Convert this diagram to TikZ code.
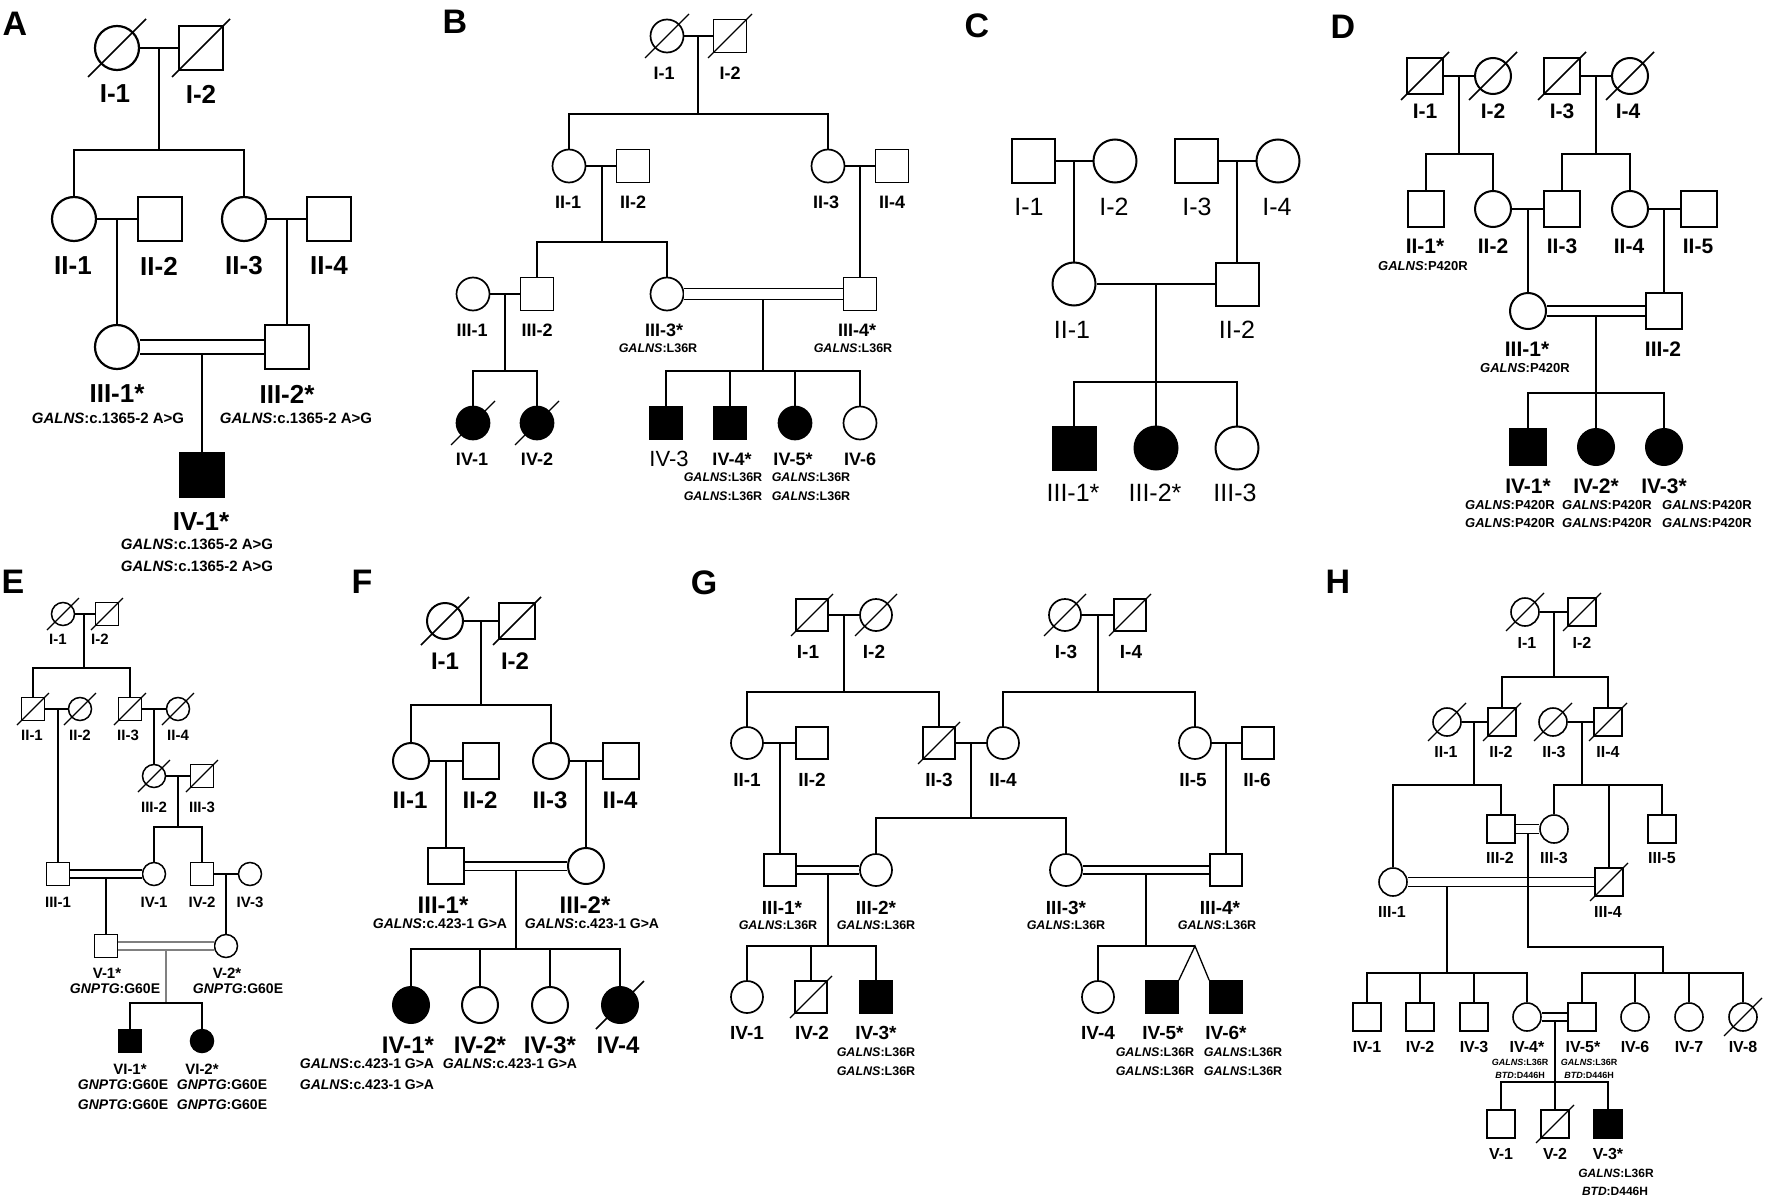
\documentclass[tikz,border=0pt]{standalone}
\usepackage{fontspec}
\setmainfont{Liberation Sans}
\newcommand{\pdg}[2]{\textit{#1}:#2}
\tikzset{
  pdsz/.style={minimum size=30pt},
  pdsym/.style={draw, inner sep=0pt, pdsz},
  pdmale/.style={pdsym, rectangle},
  pdfemale/.style={pdsym, circle},
  pdaff/.style={fill=black},
  pddead/.style={append after command={([shift={(-#1,#1)}]\tikzlastnode.center) edge ([shift={(#1,-#1)}]\tikzlastnode.center)}},
  pddbl/.style={double, double distance=#1},
  pdpanel/.style={font=\bfseries\fontsize{34}{34}\selectfont},
  pdlab/.style={font=\bfseries\fontsize{20}{20}\selectfont},
  pdgene/.style={font=\bfseries\fontsize{13}{13}\selectfont}
}

\begin{document}
\begin{tikzpicture}[x=1pt, y=-1pt, inner sep=0pt]
  \useasboundingbox (0,0) rectangle (1772,1204);
  \fill[white] (0,0) rectangle (1772,1204);

  % A
  \begin{scope}[line width=1.6pt, pdsz/.style={minimum size=44pt, line width=2.2pt}, pdlab/.style={font=\bfseries\fontsize{26}{26}\selectfont}, pdgene/.style={font=\bfseries\fontsize{15}{15}\selectfont}]
  \node[pdpanel] (Apanel) at (15,24) {A};
  \node[pdfemale, pddead=29] (A11) at (117,48) {};
  \node[pdmale, pddead=29] (A12) at (201,48) {};
  \node[pdfemale] (A21) at (74,219) {};
  \node[pdmale] (A22) at (160,219) {};
  \node[pdfemale] (A23) at (244,219) {};
  \node[pdmale] (A24) at (329,219) {};
  \node[pdfemale] (A31) at (117,347) {};
  \node[pdmale] (A32) at (287,347) {};
  \node[pdmale, pdaff] (A41) at (202,475) {};
  \node[pdlab] (A11l) at (115,94) {I-1};
  \node[pdlab] (A12l) at (201,94) {I-2};
  \node[pdlab] (A21l) at (73,266) {II-1};
  \node[pdlab] (A22l) at (159,266) {II-2};
  \node[pdlab] (A23l) at (244,266) {II-3};
  \node[pdlab] (A24l) at (329,266) {II-4};
  \node[pdlab] (A31l) at (117,394) {III-1*};
  \node[pdlab] (A32l) at (287,394) {III-2*};
  \node[pdlab] (A41l) at (201,522) {IV-1*};
  \node[pdgene] (A31g) at (108,418) {\pdg{GALNS}{c.1365-2 A>G}};
  \node[pdgene] (A32g) at (296,418) {\pdg{GALNS}{c.1365-2 A>G}};
  \node[pdgene] (A41g) at (197,544) {\pdg{GALNS}{c.1365-2 A>G}};
  \node[pdgene] (A41h) at (197,566) {\pdg{GALNS}{c.1365-2 A>G}};
  \coordinate (A1m) at (159,48);
  \coordinate (A1s) at (159,150);
  \coordinate (A2m) at (117,219);
  \coordinate (A2n) at (287,219);
  \coordinate (A3m) at (202,354);
  \draw (A11) -- (A12);
  \draw (A1m) -- (A1s);
  \draw (A21) |- (A1s) -| (A23);
  \draw (A21) -- (A22);
  \draw (A23) -- (A24);
  \draw (A2m) -- (A31);
  \draw (A2n) -- (A32);
  \draw[pddbl=12] (A31) -- (A32);
  \draw (A3m) -- (A41);
  \end{scope}

  % B
  \begin{scope}[line width=1.3pt, pdsz/.style={minimum size=33pt, line width=1.7pt}, pdlab/.style={font=\bfseries\fontsize{18}{18}\selectfont}, pdgene/.style={font=\bfseries\fontsize{12.5}{12.5}\selectfont}]
  \node[pdpanel] (Bpanel) at (455,22) {B};
  \node[pdfemale, pddead=22] (B11) at (667,36) {};
  \node[pdmale, pddead=22] (B12) at (730,36) {};
  \node[pdfemale] (B21) at (569,166) {};
  \node[pdmale] (B22) at (633,166) {};
  \node[pdfemale] (B23) at (828,166) {};
  \node[pdmale] (B24) at (892,166) {};
  \node[pdfemale] (B31) at (473,294) {};
  \node[pdmale] (B32) at (537,294) {};
  \node[pdfemale] (B33) at (667,294) {};
  \node[pdmale] (B34) at (860,294) {};
  \node[pdfemale, pdaff, pddead=22] (B41) at (473,423) {};
  \node[pdfemale, pdaff, pddead=22] (B42) at (537,423) {};
  \node[pdmale, pdaff] (B43) at (666,423) {};
  \node[pdmale, pdaff] (B44) at (730,423) {};
  \node[pdfemale, pdaff] (B45) at (795,423) {};
  \node[pdfemale] (B46) at (860,423) {};
  \node[pdlab] (B11l) at (664,73) {I-1};
  \node[pdlab] (B12l) at (730,73) {I-2};
  \node[pdlab] (B21l) at (568,202) {II-1};
  \node[pdlab] (B22l) at (633,202) {II-2};
  \node[pdlab] (B23l) at (826,202) {II-3};
  \node[pdlab] (B24l) at (892,202) {II-4};
  \node[pdlab] (B31l) at (472,330) {III-1};
  \node[pdlab] (B32l) at (537,330) {III-2};
  \node[pdlab] (B33l) at (664,330) {III-3*};
  \node[pdlab] (B34l) at (857,330) {III-4*};
  \node[pdgene] (B33g) at (658,348) {\pdg{GALNS}{L36R}};
  \node[pdgene] (B34g) at (853,348) {\pdg{GALNS}{L36R}};
  \node[pdlab] (B41l) at (472,459) {IV-1};
  \node[pdlab] (B42l) at (537,459) {IV-2};
  \node[font=\fontsize{22}{22}\selectfont] (B43l) at (669,459) {IV-3};
  \node[pdlab] (B44l) at (732,459) {IV-4*};
  \node[pdlab] (B45l) at (793,459) {IV-5*};
  \node[pdlab] (B46l) at (860,459) {IV-6};
  \node[pdgene] (B44g) at (723,477) {\pdg{GALNS}{L36R}};
  \node[pdgene] (B44h) at (723,496) {\pdg{GALNS}{L36R}};
  \node[pdgene] (B45g) at (811,477) {\pdg{GALNS}{L36R}};
  \node[pdgene] (B45h) at (811,496) {\pdg{GALNS}{L36R}};
  \coordinate (B1m) at (698,36);
  \coordinate (B1s) at (698,114);
  \coordinate (B2m) at (602,166);
  \coordinate (B2s) at (602,242);
  \coordinate (B2n) at (860,166);
  \coordinate (B3m) at (505,294);
  \coordinate (B3s) at (505,371);
  \coordinate (B3n) at (763,299.5);
  \coordinate (B3t) at (763,371);
  \draw (B11) -- (B12);
  \draw (B1m) -- (B1s);
  \draw (B21) |- (B1s) -| (B23);
  \draw (B21) -- (B22);
  \draw (B23) -- (B24);
  \draw (B2m) -- (B2s);
  \draw (B32) |- (B2s) -| (B33);
  \draw (B2n) -- (B34);
  \draw (B31) -- (B32);
  \draw (B3m) -- (B3s);
  \draw (B41) |- (B3s) -| (B42);
  \draw[pddbl=9.7] (B33) -- (B34);
  \draw (B3n) -- (B3t);
  \draw (B43) |- (B3t) -| (B46);
  \draw (B44) -- (B44 |- B3t);
  \draw (B45) -- (B45 |- B3t);
  \end{scope}

  % C
  \begin{scope}[line width=1.5pt, pdsz/.style={minimum size=43pt, line width=2pt}, pdlab/.style={font=\fontsize{25}{25}\selectfont}]
  \node[pdpanel] (Cpanel) at (977,26) {C};
  \node[pdmale] (C11) at (1033,161) {};
  \node[pdfemale] (C12) at (1115,161) {};
  \node[pdmale] (C13) at (1196,161) {};
  \node[pdfemale] (C14) at (1278,161) {};
  \node[pdfemale] (C21) at (1074,284) {};
  \node[pdmale] (C22) at (1237,284) {};
  \node[pdmale, pdaff] (C31) at (1074,448) {};
  \node[pdfemale, pdaff] (C32) at (1156,448) {};
  \node[pdfemale] (C33) at (1237,448) {};
  \node[pdlab] (C11l) at (1029,207) {I-1};
  \node[pdlab] (C12l) at (1114,207) {I-2};
  \node[pdlab] (C13l) at (1197,207) {I-3};
  \node[pdlab] (C14l) at (1277,207) {I-4};
  \node[pdlab] (C21l) at (1072,330) {II-1};
  \node[pdlab] (C22l) at (1237,330) {II-2};
  \node[pdlab] (C31l) at (1073,493) {III-1*};
  \node[pdlab] (C32l) at (1155,493) {III-2*};
  \node[pdlab] (C33l) at (1235,493) {III-3};
  \coordinate (C1m) at (1074,161);
  \coordinate (C1n) at (1237,161);
  \coordinate (C2m) at (1156,284);
  \coordinate (C2s) at (1156,382);
  \draw (C11) -- (C12);
  \draw (C13) -- (C14);
  \draw (C1m) -- (C21);
  \draw (C1n) -- (C22);
  \draw (C21) -- (C22);
  \draw (C2m) -- (C2s);
  \draw (C31) |- (C2s) -| (C33);
  \draw (C2s) -- (C32);
  \end{scope}

  % D
  \begin{scope}[line width=1.5pt, pdsz/.style={minimum size=36pt, line width=2pt}, pdlab/.style={font=\bfseries\fontsize{21}{21}\selectfont}, pdgene/.style={font=\bfseries\fontsize{13}{13}\selectfont}]
  \node[pdpanel] (Dpanel) at (1343,27) {D};
  \node[pdmale, pddead=24] (D11) at (1425,76) {};
  \node[pdfemale, pddead=24] (D12) at (1493,76) {};
  \node[pdmale, pddead=24] (D13) at (1562,76) {};
  \node[pdfemale, pddead=24] (D14) at (1630,76) {};
  \node[pdmale] (D21) at (1426,209) {};
  \node[pdfemale] (D22) at (1493,209) {};
  \node[pdmale] (D23) at (1562,209) {};
  \node[pdfemale] (D24) at (1630,209) {};
  \node[pdmale] (D25) at (1699,209) {};
  \node[pdfemale] (D31) at (1528,311) {};
  \node[pdmale] (D32) at (1664,311) {};
  \node[pdmale, pdaff] (D41) at (1528,447) {};
  \node[pdfemale, pdaff] (D42) at (1596,447) {};
  \node[pdfemale, pdaff] (D43) at (1664,447) {};
  \node[pdlab] (D11l) at (1425,111) {I-1};
  \node[pdlab] (D12l) at (1493,111) {I-2};
  \node[pdlab] (D13l) at (1562,111) {I-3};
  \node[pdlab] (D14l) at (1628,111) {I-4};
  \node[pdlab] (D21l) at (1425,246) {II-1*};
  \node[pdlab] (D22l) at (1493,246) {II-2};
  \node[pdlab] (D23l) at (1562,246) {II-3};
  \node[pdlab] (D24l) at (1629,246) {II-4};
  \node[pdlab] (D25l) at (1698,246) {II-5};
  \node[pdgene] (D21g) at (1423,266) {\pdg{GALNS}{P420R}};
  \node[pdlab] (D31l) at (1527,349) {III-1*};
  \node[pdlab] (D32l) at (1663,349) {III-2};
  \node[pdgene] (D31g) at (1525,368) {\pdg{GALNS}{P420R}};
  \node[pdlab] (D41l) at (1528,486) {IV-1*};
  \node[pdlab] (D42l) at (1596,486) {IV-2*};
  \node[pdlab] (D43l) at (1664,486) {IV-3*};
  \node[pdgene] (D41g) at (1510,505) {\pdg{GALNS}{P420R}};
  \node[pdgene] (D41h) at (1510,523) {\pdg{GALNS}{P420R}};
  \node[pdgene] (D42g) at (1607,505) {\pdg{GALNS}{P420R}};
  \node[pdgene] (D42h) at (1607,523) {\pdg{GALNS}{P420R}};
  \node[pdgene] (D43g) at (1707,505) {\pdg{GALNS}{P420R}};
  \node[pdgene] (D43h) at (1707,523) {\pdg{GALNS}{P420R}};
  \coordinate (D1m) at (1459,76);
  \coordinate (D1s) at (1459,154);
  \coordinate (D1n) at (1596,76);
  \coordinate (D1t) at (1596,154);
  \coordinate (D2m) at (1528,209);
  \coordinate (D2n) at (1664,209);
  \coordinate (D3m) at (1596,316);
  \coordinate (D3s) at (1596,393);
  \draw (D11) -- (D12);
  \draw (D13) -- (D14);
  \draw (D1m) -- (D1s);
  \draw (D1n) -- (D1t);
  \draw (D21) |- (D1s) -| (D22);
  \draw (D23) |- (D1t) -| (D24);
  \draw (D22) -- (D23);
  \draw (D24) -- (D25);
  \draw (D2m) -- (D31);
  \draw (D2n) -- (D32);
  \draw[pddbl=8.5] (D31) -- (D32);
  \draw (D3m) -- (D3s);
  \draw (D41) |- (D3s) -| (D43);
  \draw (D3s) -- (D42);
  \end{scope}

  % E
  \begin{scope}[line width=1.2pt, pdsz/.style={minimum size=23pt, line width=1.5pt}, pdlab/.style={font=\bfseries\fontsize{15}{15}\selectfont}, pdgene/.style={font=\bfseries\fontsize{14}{14}\selectfont}]
  \node[pdpanel] (Epanel) at (13,582) {E};
  \node[pdfemale, pddead=16] (E11) at (63,614) {};
  \node[pdmale, pddead=16] (E12) at (107,614) {};
  \node[pdmale, pddead=16] (E21) at (33,709) {};
  \node[pdfemale, pddead=16] (E22) at (80,709) {};
  \node[pdmale, pddead=16] (E23) at (130,709) {};
  \node[pdfemale, pddead=16] (E24) at (178,709) {};
  \node[pdfemale, pddead=16] (E32) at (154,776) {};
  \node[pdmale, pddead=16] (E33) at (202,776) {};
  \node[pdmale] (E31) at (58,874) {};
  \node[pdfemale] (E41) at (154,874) {};
  \node[pdmale] (E42) at (202,874) {};
  \node[pdfemale] (E43) at (250,874) {};
  \node[pdmale] (E51) at (106,946) {};
  \node[pdfemale] (E52) at (226,946) {};
  \node[pdmale, pdaff] (E61) at (130,1041) {};
  \node[pdfemale, pdaff] (E62) at (202,1041) {};
  \node[pdlab] (E11l) at (58,639) {I-1};
  \node[pdlab] (E12l) at (100,639) {I-2};
  \node[pdlab] (E21l) at (32,735) {II-1};
  \node[pdlab] (E22l) at (80,735) {II-2};
  \node[pdlab] (E23l) at (128,735) {II-3};
  \node[pdlab] (E24l) at (178,735) {II-4};
  \node[pdlab] (E32l) at (154,807) {III-2};
  \node[pdlab] (E33l) at (202,807) {III-3};
  \node[pdlab] (E31l) at (58,902) {III-1};
  \node[pdlab] (E41l) at (154,902) {IV-1};
  \node[pdlab] (E42l) at (202,902) {IV-2};
  \node[pdlab] (E43l) at (250,902) {IV-3};
  \node[pdlab] (E51l) at (107,973) {V-1*};
  \node[pdlab] (E52l) at (227,973) {V-2*};
  \node[pdgene] (E51g) at (115,989) {\pdg{GNPTG}{G60E}};
  \node[pdgene] (E52g) at (238,989) {\pdg{GNPTG}{G60E}};
  \node[pdlab] (E61l) at (130,1069) {VI-1*};
  \node[pdlab] (E62l) at (202,1069) {VI-2*};
  \node[pdgene] (E61g) at (123,1085) {\pdg{GNPTG}{G60E}};
  \node[pdgene] (E61h) at (123,1105) {\pdg{GNPTG}{G60E}};
  \node[pdgene] (E62g) at (222,1085) {\pdg{GNPTG}{G60E}};
  \node[pdgene] (E62h) at (222,1105) {\pdg{GNPTG}{G60E}};
  \coordinate (E1m) at (84,614);
  \coordinate (E1s) at (84,668);
  \coordinate (E2m) at (58,709);
  \coordinate (E2n) at (154,709);
  \coordinate (E3m) at (178,776);
  \coordinate (E3s) at (178,827);
  \coordinate (E4m) at (106,878);
  \coordinate (E4n) at (226,874);
  \coordinate (E5m) at (166,950);
  \coordinate (E5s) at (166,1003);
  \draw (E11) -- (E12);
  \draw (E1m) -- (E1s);
  \draw (E21) |- (E1s) -| (E23);
  \draw (E21) -- (E22);
  \draw (E23) -- (E24);
  \draw (E2m) -- (E31);
  \draw (E2n) -- (E32);
  \draw (E32) -- (E33);
  \draw (E3m) -- (E3s);
  \draw (E41) |- (E3s) -| (E42);
  \draw[pddbl=6.8] (E31) -- (E41);
  \draw (E4m) -- (E51);
  \draw (E42) -- (E43);
  \draw (E4n) -- (E52);
  \draw[pddbl=6.8, draw=gray] (E51) -- (E52);
  \draw[gray] (E5m) -- (E5s);
  \draw (E61) |- (E5s) -| (E62);
  \end{scope}

  % F
  \begin{scope}[line width=1.5pt, pdsz/.style={minimum size=36pt, line width=2pt}, pdlab/.style={font=\bfseries\fontsize{24}{24}\selectfont}, pdgene/.style={font=\bfseries\fontsize{14}{14}\selectfont}]
  \node[pdpanel] (Fpanel) at (362,582) {F};
  \node[pdfemale, pddead=24] (F11) at (445,621) {};
  \node[pdmale, pddead=24] (F12) at (517,621) {};
  \node[pdfemale] (F21) at (411,761) {};
  \node[pdmale] (F22) at (481,761) {};
  \node[pdfemale] (F23) at (551,761) {};
  \node[pdmale] (F24) at (621,761) {};
  \node[pdmale] (F31) at (446,866) {};
  \node[pdfemale] (F32) at (586,866) {};
  \node[pdfemale, pdaff] (F41) at (411,1005) {};
  \node[pdfemale] (F42) at (480,1005) {};
  \node[pdfemale] (F43) at (550,1005) {};
  \node[pdfemale, pdaff, pddead=24] (F44) at (620,1005) {};
  \node[pdlab] (F11l) at (445,661) {I-1};
  \node[pdlab] (F12l) at (515,661) {I-2};
  \node[pdlab] (F21l) at (410,800) {II-1};
  \node[pdlab] (F22l) at (480,800) {II-2};
  \node[pdlab] (F23l) at (550,800) {II-3};
  \node[pdlab] (F24l) at (620,800) {II-4};
  \node[pdlab] (F31l) at (443,905) {III-1*};
  \node[pdlab] (F32l) at (585,905) {III-2*};
  \node[pdgene] (F31g) at (440,924) {\pdg{GALNS}{c.423-1 G>A}};
  \node[pdgene] (F32g) at (592,924) {\pdg{GALNS}{c.423-1 G>A}};
  \node[pdlab] (F41l) at (408,1045) {IV-1*};
  \node[pdlab] (F42l) at (480,1045) {IV-2*};
  \node[pdlab] (F43l) at (550,1045) {IV-3*};
  \node[pdlab] (F44l) at (618,1045) {IV-4};
  \node[pdgene] (F41g) at (367,1064) {\pdg{GALNS}{c.423-1 G>A}};
  \node[pdgene] (F41h) at (367,1085) {\pdg{GALNS}{c.423-1 G>A}};
  \node[pdgene] (F42g) at (510,1064) {\pdg{GALNS}{c.423-1 G>A}};
  \coordinate (F1m) at (481,621);
  \coordinate (F1s) at (481,705);
  \coordinate (F2m) at (446,761);
  \coordinate (F2n) at (586,761);
  \coordinate (F3m) at (516,870);
  \coordinate (F3s) at (516,949);
  \draw (F11) -- (F12);
  \draw (F1m) -- (F1s);
  \draw (F21) |- (F1s) -| (F23);
  \draw (F21) -- (F22);
  \draw (F23) -- (F24);
  \draw (F2m) -- (F31);
  \draw (F2n) -- (F32);
  \draw[pddbl=7] (F31) -- (F32);
  \draw (F3m) -- (F3s);
  \draw (F41) |- (F3s) -| (F44);
  \draw (F42) -- (F42 |- F3s);
  \draw (F43) -- (F43 |- F3s);
  \end{scope}

  % G
  \begin{scope}[line width=1.3pt, pdsz/.style={minimum size=32pt, line width=1.7pt}, pdlab/.style={font=\bfseries\fontsize{19}{19}\selectfont}, pdgene/.style={font=\bfseries\fontsize{12.5}{12.5}\selectfont}]
  \node[pdpanel] (Gpanel) at (704,583) {G};
  \node[pdmale, pddead=21] (G11) at (812,615) {};
  \node[pdfemale, pddead=21] (G12) at (876,615) {};
  \node[pdfemale, pddead=21] (G13) at (1065,615) {};
  \node[pdmale, pddead=21] (G14) at (1130,615) {};
  \node[pdfemale] (G21) at (747,743) {};
  \node[pdmale] (G22) at (812,743) {};
  \node[pdmale, pddead=21] (G23) at (939,743) {};
  \node[pdfemale] (G24) at (1003,743) {};
  \node[pdfemale] (G25) at (1195,743) {};
  \node[pdmale] (G26) at (1258,743) {};
  \node[pdmale] (G31) at (780,870) {};
  \node[pdfemale] (G32) at (876,870) {};
  \node[pdfemale] (G33) at (1066,870) {};
  \node[pdmale] (G34) at (1226,870) {};
  \node[pdfemale] (G41) at (747,997) {};
  \node[pdmale, pddead=21] (G42) at (811,997) {};
  \node[pdmale, pdaff] (G43) at (876,997) {};
  \node[pdfemale] (G44) at (1098,997) {};
  \node[pdmale, pdaff] (G45) at (1162,997) {};
  \node[pdmale, pdaff] (G46) at (1226,997) {};
  \node[pdlab] (G11l) at (808,652) {I-1};
  \node[pdlab] (G12l) at (874,652) {I-2};
  \node[pdlab] (G13l) at (1066,652) {I-3};
  \node[pdlab] (G14l) at (1131,652) {I-4};
  \node[pdlab] (G21l) at (747,780) {II-1};
  \node[pdlab] (G22l) at (812,780) {II-2};
  \node[pdlab] (G23l) at (939,780) {II-3};
  \node[pdlab] (G24l) at (1003,780) {II-4};
  \node[pdlab] (G25l) at (1193,780) {II-5};
  \node[pdlab] (G26l) at (1257,780) {II-6};
  \node[pdlab] (G31l) at (782,908) {III-1*};
  \node[pdlab] (G32l) at (876,908) {III-2*};
  \node[pdlab] (G33l) at (1066,908) {III-3*};
  \node[pdlab] (G34l) at (1220,908) {III-4*};
  \node[pdgene] (G31g) at (778,925) {\pdg{GALNS}{L36R}};
  \node[pdgene] (G32g) at (876,925) {\pdg{GALNS}{L36R}};
  \node[pdgene] (G33g) at (1066,925) {\pdg{GALNS}{L36R}};
  \node[pdgene] (G34g) at (1217,925) {\pdg{GALNS}{L36R}};
  \node[pdlab] (G41l) at (747,1033) {IV-1};
  \node[pdlab] (G42l) at (812,1033) {IV-2};
  \node[pdlab] (G43l) at (876,1033) {IV-3*};
  \node[pdlab] (G44l) at (1098,1033) {IV-4};
  \node[pdlab] (G45l) at (1163,1033) {IV-5*};
  \node[pdlab] (G46l) at (1226,1033) {IV-6*};
  \node[pdgene] (G43g) at (876,1052) {\pdg{GALNS}{L36R}};
  \node[pdgene] (G43h) at (876,1071) {\pdg{GALNS}{L36R}};
  \node[pdgene] (G45g) at (1155,1052) {\pdg{GALNS}{L36R}};
  \node[pdgene] (G45h) at (1155,1071) {\pdg{GALNS}{L36R}};
  \node[pdgene] (G46g) at (1243,1052) {\pdg{GALNS}{L36R}};
  \node[pdgene] (G46h) at (1243,1071) {\pdg{GALNS}{L36R}};
  \coordinate (G1m) at (844,615);
  \coordinate (G1s) at (844,692);
  \coordinate (G1n) at (1098,615);
  \coordinate (G1t) at (1098,692);
  \coordinate (G2m) at (780,743);
  \coordinate (G2n) at (971,743);
  \coordinate (G2s) at (971,818);
  \coordinate (G2o) at (1226,743);
  \coordinate (G3m) at (828,874);
  \coordinate (G3s) at (828,946);
  \coordinate (G3n) at (1146,874);
  \coordinate (G3t) at (1146,946);
  \coordinate (G3u) at (1195,946);
  \draw (G11) -- (G12);
  \draw (G13) -- (G14);
  \draw (G1m) -- (G1s);
  \draw (G1n) -- (G1t);
  \draw (G21) |- (G1s) -| (G23);
  \draw (G24) |- (G1t) -| (G25);
  \draw (G21) -- (G22);
  \draw (G23) -- (G24);
  \draw (G25) -- (G26);
  \draw (G2m) -- (G31);
  \draw (G2n) -- (G2s);
  \draw (G32) |- (G2s) -| (G33);
  \draw (G2o) -- (G34);
  \draw[pddbl=6.7] (G31) -- (G32);
  \draw[pddbl=6.7] (G33) -- (G34);
  \draw (G3m) -- (G3s);
  \draw (G41) |- (G3s) -| (G43);
  \draw (G42) -- (G42 |- G3s);
  \draw (G3n) -- (G3t);
  \draw (G44) |- (G3u);
  \draw (G45.north east) -- (G3u) -- (G46.north west);
  \end{scope}

  % H
  \begin{scope}[line width=1.3pt, pdsz/.style={minimum size=28pt, line width=1.6pt}, pdlab/.style={font=\bfseries\fontsize{16}{16}\selectfont}, pdgene/.style={font=\bfseries\fontsize{12}{12}\selectfont}]
  \node[pdpanel] (Hpanel) at (1338,582) {H};
  \node[pdfemale, pddead=19] (H11) at (1525,612) {};
  \node[pdmale, pddead=19] (H12) at (1582,612) {};
  \node[pdfemale, pddead=19] (H21) at (1447,722) {};
  \node[pdmale, pddead=19] (H22) at (1502,722) {};
  \node[pdfemale, pddead=19] (H23) at (1553,722) {};
  \node[pdmale, pddead=19] (H24) at (1608,722) {};
  \node[pdfemale] (H31) at (1393,882) {};
  \node[pdmale] (H32) at (1501,829) {};
  \node[pdfemale] (H33) at (1554,829) {};
  \node[pdmale, pddead=19] (H34) at (1609,882) {};
  \node[pdmale] (H35) at (1662,829) {};
  \node[pdmale] (H41) at (1367,1017) {};
  \node[pdmale] (H42) at (1420,1017) {};
  \node[pdmale] (H43) at (1474,1017) {};
  \node[pdfemale] (H44) at (1527,1017) {};
  \node[pdmale] (H45) at (1582,1017) {};
  \node[pdfemale] (H46) at (1635,1017) {};
  \node[pdfemale] (H47) at (1689,1017) {};
  \node[pdfemale, pddead=19] (H48) at (1743,1017) {};
  \node[pdmale] (H51) at (1501,1124) {};
  \node[pdmale, pddead=19] (H52) at (1555,1124) {};
  \node[pdmale, pdaff] (H53) at (1608,1124) {};
  \node[pdlab] (H11l) at (1527,643) {I-1};
  \node[pdlab] (H12l) at (1582,643) {I-2};
  \node[pdlab] (H21l) at (1446,752) {II-1};
  \node[pdlab] (H22l) at (1501,752) {II-2};
  \node[pdlab] (H23l) at (1554,752) {II-3};
  \node[pdlab] (H24l) at (1608,752) {II-4};
  \node[pdlab] (H32l) at (1500,858) {III-2};
  \node[pdlab] (H33l) at (1554,858) {III-3};
  \node[pdlab] (H35l) at (1662,858) {III-5};
  \node[pdlab] (H31l) at (1392,912) {III-1};
  \node[pdlab] (H34l) at (1608,912) {III-4};
  \node[pdlab] (H41l) at (1367,1047) {IV-1};
  \node[pdlab] (H42l) at (1420,1047) {IV-2};
  \node[pdlab] (H43l) at (1474,1047) {IV-3};
  \node[pdlab] (H44l) at (1527,1047) {IV-4*};
  \node[pdlab] (H45l) at (1583,1047) {IV-5*};
  \node[pdlab] (H46l) at (1635,1047) {IV-6};
  \node[pdlab] (H47l) at (1689,1047) {IV-7};
  \node[pdlab] (H48l) at (1743,1047) {IV-8};
  \node[pdgene, font=\bfseries\fontsize{9}{9}\selectfont] (H44g) at (1520,1062) {\pdg{GALNS}{L36R}};
  \node[pdgene, font=\bfseries\fontsize{9}{9}\selectfont] (H44h) at (1520,1075) {\pdg{BTD}{D446H}};
  \node[pdgene, font=\bfseries\fontsize{9}{9}\selectfont] (H45g) at (1589,1062) {\pdg{GALNS}{L36R}};
  \node[pdgene, font=\bfseries\fontsize{9}{9}\selectfont] (H45h) at (1589,1075) {\pdg{BTD}{D446H}};
  \node[pdlab] (H51l) at (1501,1154) {V-1};
  \node[pdlab] (H52l) at (1555,1154) {V-2};
  \node[pdlab] (H53l) at (1608,1154) {V-3*};
  \node[pdgene] (H53g) at (1616,1173) {\pdg{GALNS}{L36R}};
  \node[pdgene] (H53h) at (1615,1191) {\pdg{BTD}{D446H}};
  \coordinate (H1m) at (1554,612);
  \coordinate (H1s) at (1554,677);
  \coordinate (H2m) at (1474,722);
  \coordinate (H2s) at (1474,785);
  \coordinate (H2n) at (1582,722);
  \coordinate (H2t) at (1582,785);
  \coordinate (H3m) at (1528,834);
  \coordinate (H3b) at (1663,947);
  \coordinate (H3c) at (1663,973);
  \coordinate (H3n) at (1447,887);
  \coordinate (H3s) at (1447,973);
  \coordinate (H4m) at (1555,1021);
  \coordinate (H4s) at (1555,1082);
  \draw (H11) -- (H12);
  \draw (H1m) -- (H1s);
  \draw (H22) |- (H1s) -| (H24);
  \draw (H21) -- (H22);
  \draw (H23) -- (H24);
  \draw (H2m) -- (H2s);
  \draw (H31) |- (H2s) -| (H32);
  \draw (H2n) -- (H2t);
  \draw (H33) |- (H2t) -| (H35);
  \draw (H34) -- (H34 |- H2t);
  \draw[pddbl=7.7] (H32) -- (H33);
  \draw[pddbl=7.7] (H31) -- (H34);
  \draw (H3m) |- (H3b) -- (H3c);
  \draw (H45) |- (H3c) -| (H48);
  \draw (H46) -- (H46 |- H3c);
  \draw (H47) -- (H47 |- H3c);
  \draw (H3n) -- (H3s);
  \draw (H41) |- (H3s) -| (H44);
  \draw (H42) -- (H42 |- H3s);
  \draw (H43) -- (H43 |- H3s);
  \draw[pddbl=6.7] (H44) -- (H45);
  \draw (H4m) -- (H4s);
  \draw (H51) |- (H4s) -| (H53);
  \draw (H4s) -- (H52);
  \end{scope}
\end{tikzpicture}
\end{document}
